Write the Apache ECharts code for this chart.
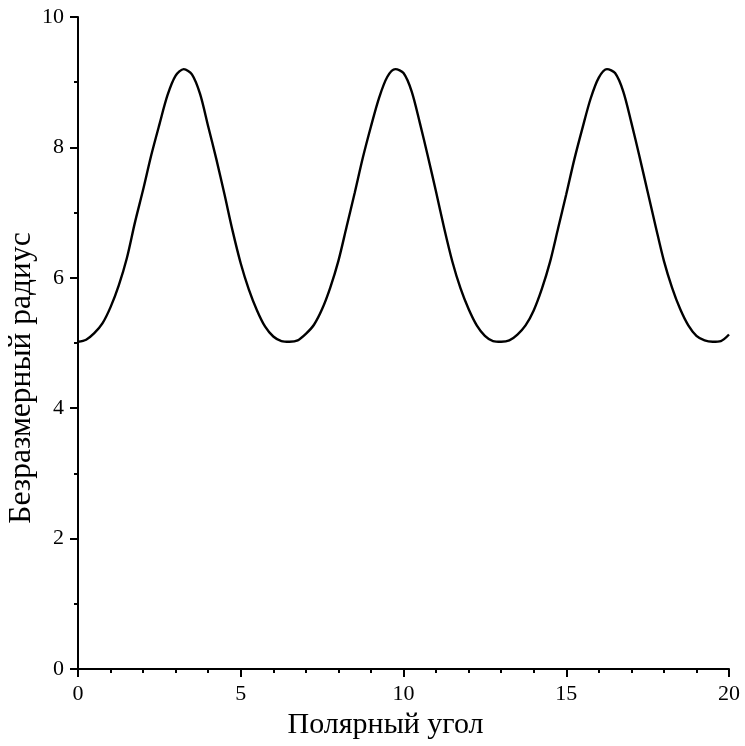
<!DOCTYPE html>
<html>
<head>
<meta charset="utf-8">
<script src="https://cdn.jsdelivr.net/npm/echarts@6/dist/echarts.min.js"></script>
<style>
    html, body { margin: 0; padding: 0; background: #fff; }
    #chart { width: 745px; height: 746px; }
</style>
</head>
<body>
<div id="chart"></div>
<script>
// polar angle, step 0.25
const angles = [
    0, 0.25, 0.5, 0.75, 1, 1.25, 1.5, 1.75, 2, 2.25, 2.5, 2.75, 3, 3.25, 3.5, 3.75,
    4, 4.25, 4.5, 4.75, 5, 5.25, 5.5, 5.75, 6, 6.25, 6.5, 6.75, 7, 7.25, 7.5, 7.75,
    8, 8.25, 8.5, 8.75, 9, 9.25, 9.5, 9.75, 10, 10.25, 10.5, 10.75, 11, 11.25, 11.5, 11.75,
    12, 12.25, 12.5, 12.75, 13, 13.25, 13.5, 13.75, 14, 14.25, 14.5, 14.75, 15, 15.25, 15.5, 15.75,
    16, 16.25, 16.5, 16.75, 17, 17.25, 17.5, 17.75, 18, 18.25, 18.5, 18.75, 19, 19.25, 19.5, 19.75, 20
];
// dimensionless radius
const radius = [
    5.02, 5.05, 5.15, 5.30, 5.55, 5.88, 6.30, 6.85, 7.35, 7.88, 8.35, 8.80, 9.10, 9.20, 9.12, 8.82,
    8.32, 7.82, 7.28, 6.72, 6.22, 5.82, 5.50, 5.25, 5.10, 5.03, 5.02, 5.04, 5.14, 5.28, 5.52, 5.85,
    6.26, 6.78, 7.30, 7.84, 8.32, 8.76, 9.08, 9.20, 9.14, 8.86, 8.38, 7.86, 7.32, 6.76, 6.25, 5.84,
    5.52, 5.27, 5.11, 5.03, 5.02, 5.04, 5.13, 5.27, 5.50, 5.83, 6.24, 6.76, 7.28, 7.82, 8.30, 8.75,
    9.07, 9.20, 9.14, 8.86, 8.38, 7.86, 7.32, 6.78, 6.26, 5.85, 5.52, 5.27, 5.11, 5.04, 5.02, 5.03, 5.13
];

const points = angles.map((a, i) => [a, radius[i]]);

const serif = "'Liberation Serif', 'Times New Roman', serif";

const chart = echarts.init(document.getElementById("chart"));
chart.setOption({
    backgroundColor: "#fff",
    animation: false,
    grid: {
        left: 78,
        right: 16,
        top: 17,
        bottom: 77,
        containLabel: false,
        outerBoundsMode: "none"
    },
    xAxis: {
        type: "value",
        min: 0,
        max: 20,
        interval: 5,
        name: "Полярный угол",
        nameLocation: "middle",
        nameGap: 41,
        nameMoveOverlap: false,
        nameTextStyle: {
            fontFamily: serif,
            fontSize: 30,
            color: "#000",
            padding: [0, 36, 0, 0]
        },
        axisLine: { show: true, lineStyle: { color: "#000", width: 2 } },
        axisTick: { show: true, inside: false, length: 8, lineStyle: { color: "#000", width: 2 } },
        minorTick: { show: true, splitNumber: 5, length: 4, lineStyle: { color: "#000", width: 2 } },
        axisLabel: { fontFamily: serif, fontSize: 22, color: "#000", margin: 14 },
        splitLine: { show: false }
    },
    yAxis: {
        type: "value",
        min: 0,
        max: 10,
        interval: 2,
        name: "Безразмерный радиус",
        nameLocation: "middle",
        nameGap: 40,
        nameMoveOverlap: false,
        nameTextStyle: {
            fontFamily: serif,
            fontSize: 31.5,
            color: "#000",
            padding: [0, 70, 0, 0]
        },
        axisLine: { show: true, lineStyle: { color: "#000", width: 2 } },
        axisTick: { show: true, inside: false, length: 8, lineStyle: { color: "#000", width: 2 } },
        minorTick: { show: true, splitNumber: 2, length: 4, lineStyle: { color: "#000", width: 2 } },
        axisLabel: { fontFamily: serif, fontSize: 22, color: "#000", margin: 14 },
        splitLine: { show: false }
    },
    series: [{
        type: "line",
        data: points,
        smooth: 0.3,
        showSymbol: false,
        lineStyle: { color: "#000", width: 2.4 }
    }]
});
</script>
</body>
</html>
